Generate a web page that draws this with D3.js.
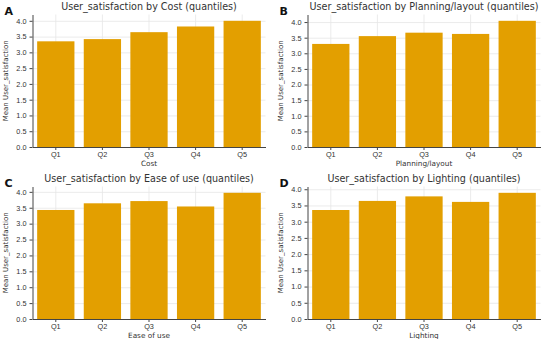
<!DOCTYPE html>
<html>
<head>
<meta charset="utf-8">
<script src="https://cdn.jsdelivr.net/npm/d3@7"></script>
<style>
  body { margin: 0; background: #fff; }
  svg { font-family: "DejaVu Sans", sans-serif; }
  .axis text { fill: #333; font-size: 7.3px; }
  .axis path, .axis line { stroke: #444; }
  .grid line { stroke: #e6e6e6; stroke-width: 0.8; }
  .grid path { display: none; }
</style>
</head>
<body>
<div id="chart"></div>
<script>
const quantiles = ['Q1', 'Q2', 'Q3', 'Q4', 'Q5'];
const costValues = [3.35, 3.42, 3.64, 3.82, 4.0];
const planningValues = [3.30, 3.55, 3.66, 3.62, 4.04];
const easeValues = [3.43, 3.64, 3.71, 3.54, 3.97];
const lightingValues = [3.36, 3.64, 3.78, 3.61, 3.89];
const yTicks = [0, 0.5, 1.0, 1.5, 2.0, 2.5, 3.0, 3.5, 4.0];

const panels = [
  { tag: 'A', factor: 'Cost', values: costValues },
  { tag: 'B', factor: 'Planning/layout', values: planningValues },
  { tag: 'C', factor: 'Ease of use', values: easeValues },
  { tag: 'D', factor: 'Lighting', values: lightingValues }
];

const width = 550;
const height = 339;
const cellW = 275;
const cellH = 172;
const margin = { top: 14.5, right: 10, bottom: 24, left: 32.5 };
const innerW = 233;
const innerH = 132.5;
const barColor = '#e39f00';

const svg = d3.select('#chart')
  .append('svg')
  .attr('width', width)
  .attr('height', height);

panels.forEach(function (p, i) {
  const col = i % 2;
  const row = Math.floor(i / 2);
  const g = svg.append('g')
    .attr('transform', `translate(${col * cellW + margin.left},${row * cellH + margin.top})`);

  const x = d3.scaleBand()
    .domain(quantiles)
    .range([0, innerW])
    .paddingInner(0.2)
    .paddingOuter(0.1);

  const y = d3.scaleLinear()
    .domain([0, d3.max(p.values) * 1.05])
    .range([innerH, 0]);

  const ticks = yTicks.filter(t => t <= y.domain()[1]);

  // grid
  g.append('g')
    .attr('class', 'grid')
    .call(d3.axisLeft(y).tickValues(ticks).tickSize(-innerW).tickFormat(''));
  g.append('g')
    .attr('class', 'grid')
    .attr('transform', `translate(0,${innerH})`)
    .call(d3.axisBottom(x).tickSize(-innerH).tickFormat(''));

  g.selectAll('rect.bar')
    .data(p.values)
    .enter()
    .append('rect')
    .attr('class', 'bar')
    .attr('x', (d, j) => x(quantiles[j]))
    .attr('y', d => y(d))
    .attr('width', x.bandwidth())
    .attr('height', d => innerH - y(d))
    .attr('fill', barColor);

  g.append('g')
    .attr('class', 'axis')
    .call(d3.axisLeft(y)
      .tickValues(ticks)
      .tickFormat(d3.format('.1f'))
      .tickSize(3)
      .tickPadding(3)
      .tickSizeOuter(0));

  g.append('g')
    .attr('class', 'axis')
    .attr('transform', `translate(0,${innerH})`)
    .call(d3.axisBottom(x).tickSize(3).tickPadding(2).tickSizeOuter(0));

  g.append('text')
    .attr('x', innerW / 2)
    .attr('y', -4.5)
    .attr('text-anchor', 'middle')
    .attr('font-size', 9.6)
    .attr('fill', '#333')
    .text(`User_satisfaction by ${p.factor} (quantiles)`);

  g.append('text')
    .attr('x', innerW / 2)
    .attr('y', innerH + 19)
    .attr('text-anchor', 'middle')
    .attr('font-size', 7.3)
    .attr('fill', '#333')
    .text(p.factor);

  g.append('text')
    .attr('transform', `translate(-24.5,${innerH / 2}) rotate(-90)`)
    .attr('text-anchor', 'middle')
    .attr('font-size', 7)
    .attr('fill', '#333')
    .text('Mean User_satisfaction');

  g.append('text')
    .attr('x', -28)
    .attr('y', 0.5)
    .attr('font-size', 11)
    .attr('font-weight', 'bold')
    .attr('fill', '#111')
    .text(p.tag);
});
</script>
</body>
</html>
